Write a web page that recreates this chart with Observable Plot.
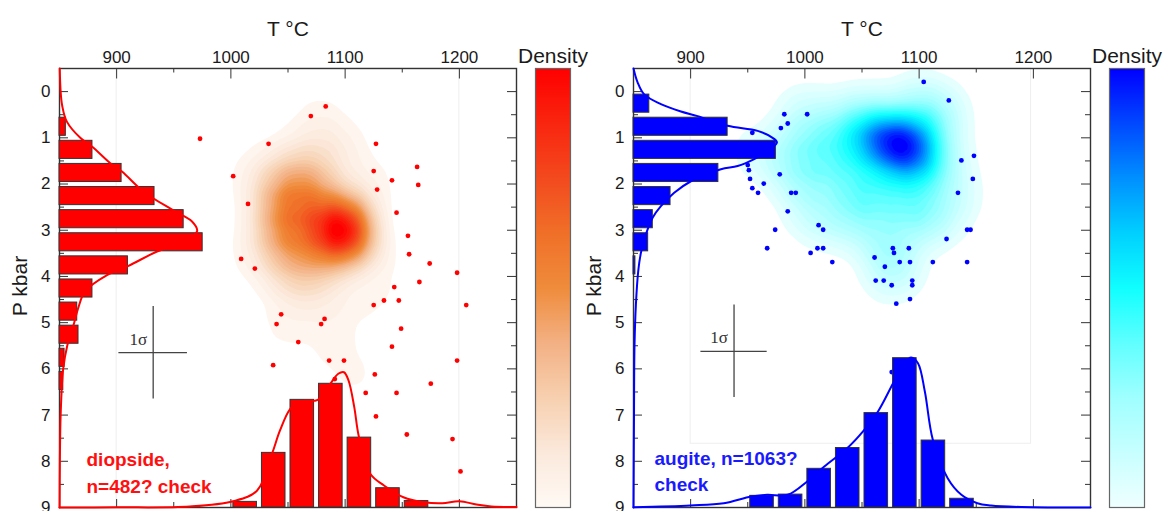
<!DOCTYPE html>
<html><head><meta charset="utf-8">
<script src="https://cdn.jsdelivr.net/npm/d3@7"></script>
<script src="https://cdn.jsdelivr.net/npm/@observablehq/plot@0.6"></script>
<style>
html,body{margin:0;padding:0;background:#fff;}
#chart{position:relative;width:1170px;height:511px;overflow:hidden;font-family:"Liberation Sans",Arial,sans-serif;}
#chart svg{position:absolute;overflow:visible;background:transparent !important;}
</style></head><body><div id="chart"></div>
<script>
// ---------- shared axes ----------
const tDomain = [850, 1250];
const pDomain = [-0.5, 9];
const tTicks = [900, 1000, 1100, 1200];
const tMinor = [950, 1050, 1150];
const pTicks = [0, 1, 2, 3, 4, 5, 6, 7, 8, 9];
const pMinor = [0.5, 1.5, 2.5, 3.5, 4.5, 5.5, 6.5, 7.5, 8.5];

// ---------- diopside (left) ----------
const diDotT = [973,1083,1070,1033,1127,1002,1163,1125,1141,1164,1128,1015,1145,1155,1156,1009,1021,1174,1198,1143,1165,1125,1134,1147,1206,1044,1040,1082,1079,1149,1059,1141,1037,1086,1099,1198,1126,1091,1118,1145,1175,1127,1154,1194,1201];
const diDotP = [1.02,0.32,0.53,1.13,1.13,1.83,1.63,1.72,1.92,2.02,2.12,2.43,2.62,3.12,3.52,3.62,3.83,3.72,3.92,4.23,4.12,4.62,4.52,4.52,4.62,4.82,5.03,4.92,5.03,5.13,5.42,5.52,5.92,5.82,5.82,5.82,6.12,6.22,6.52,6.52,6.32,7.03,7.42,7.52,8.22];
// weighted density centres read from the shaded field
const diKdeT = [1100,1100,1100,1040,1060,1080,1040,1060,1080,1040,1060,1080,1045,1065,1085,1050,1075,1050,1075,1075,1060,1090,1020,1120,1125,1020,1100,1090,1110,1045,1078,1130];
const diKdeP = [2.7,3.0,3.3,2.0,2.0,2.0,2.5,2.5,2.5,3.0,3.0,3.0,3.5,3.5,3.6,4.0,4.0,1.5,1.5,1.0,4.5,4.6,1.8,2.0,3.5,3.5,1.2,5.5,6.2,5.2,0.5,4.5];
const diKdeW = [10,14,10,4,5.5,4,5.5,6,4.5,5.5,6,5,4.5,4.5,4,3.2,2.6,2.6,2.6,1.5,1.8,1.8,1.5,1.8,1.8,1.5,1.8,1.5,1.2,1.2,1.2,1.2];
const diPlo = [0.5,1,1.5,2,2.5,3,3.5,4,4.5,5,5.5,6];
const diPn  = [5,26,49,75,98,113,54,26,14,15,4,3];
const diTlo = [1000,1025,1050,1075,1100,1125,1150];
const diTn  = [7,68,134,154,87,24,8];
const diPcurveP = [-0.5,0,0.3,0.65,1.0,1.19,1.55,1.73,2.16,2.57,2.81,3.02,3.28,3.46,3.77,3.97,4.32,4.68,5.0,5.5,6.0,7.0,8.0,9.0];
const diPcurveN = [0.2,0.9,2.1,5.8,16.4,25.6,40.1,49.3,66.1,89.8,104.6,108.6,95.4,77,54.5,37.5,20.3,14.8,11.6,6.1,2.9,0.9,0.3,0.1];
const diTcurveT = [850,900,964,1002,1023,1036,1043,1052,1061,1076,1087,1094,1099,1103,1108,1112,1122,1134,1151,1169,1185,1200,1215,1228,1250];
const diTcurveN = [0.1,0.2,1.2,7.8,21.2,66.9,95.9,122.9,132.3,134.1,154,166.5,168.4,158.1,124.9,88.4,42,27.4,12.8,6.6,5.4,7.8,3.7,1.2,0.6];
const diStops = ["#fffaf5","#fbe9dc","#f7d0b0","#f3b184","#ef8c3c","#f07028","#f34a1e","#f9260f","#ff0000"];

// ---------- augite (right) ----------
const auDotT = [1104,1126,982,1002,985,979,954,1148,1137,1147,950,951,952,978,964,954,959,988,992,1134,985,974,1012,1016,967,1005,1011,1016,1024,1077,1078,1091,1061,1083,1092,1070,1112,1142,1142,1145,1124,1062,1069,1094,1076,1094,1080,1092,1076];
const auDotP = [-0.21,0.19,0.49,0.49,0.69,0.79,0.89,1.39,1.49,1.89,1.59,1.70,1.89,1.79,1.99,2.09,2.19,2.19,2.19,2.19,2.59,2.99,2.89,2.99,3.39,3.49,3.39,3.39,3.69,3.39,3.49,3.39,3.59,3.69,3.69,3.79,3.69,3.69,2.99,2.99,3.19,4.09,4.09,4.09,4.19,4.19,4.59,4.49,6.07];
const auKdeT = [1092,1080,1098,1070,1060,1045,1070,1105,1075,1100,1000,1020,1000,1040,1060,1090,1120,1110,1040,1070,1010,985,1100,1050,1000,1130,1075,1080,960,1120,1030];
const auKdeP = [1.2,0.95,1.5,1.1,1.2,1.2,0.7,0.8,1.7,1.9,1.0,1.5,2.0,2.0,2.3,2.5,1.5,2.8,2.8,3.2,2.7,1.5,0.2,0.5,0.4,2.3,4.0,3.7,1.3,0.5,0.8];
const auKdeW = [11,6,5,5,5.5,4.5,5,5,5.5,4.5,4.5,5,4.5,5.5,5.5,5.5,4.5,4.5,4.5,4.5,3.5,3.5,3.5,4.5,2.5,3,2.2,3,2,3.5,5];
const auPlo = [0,0.5,1,1.5,2,2.5,3,3.5];
const auPn  = [41,244,369,220,96,50,38,5];
const auTlo = [950,975,1000,1025,1050,1075,1100,1125];
const auTn  = [28,31,93,143,227,359,161,21];
const auPcurveP = [-0.5,-0.2,0.06,0.27,0.43,0.53,0.74,0.85,1.0,1.1,1.29,1.46,1.61,1.68,1.94,2.19,2.48,2.73,3.09,3.49,3.89,4.61,5.5,7,9];
const auPcurveN = [0,10.6,27.7,71,122.9,166.2,244,321.8,360.6,371.8,347.7,312.9,269.9,226.6,148.8,105.5,71,49.5,32.1,19.2,12.2,6.2,2.6,1.3,0];
const auTcurveT = [850,900,929,953,967,985,1002,1017,1037,1052,1064,1078,1087,1093,1099,1105,1112,1125,1137,1151,1163,1190,1250];
const auTcurveN = [0.5,4.8,10.3,26.4,30.5,30.5,62.5,98.6,142.6,186.8,230.8,303,347,360.7,347,278.9,162.8,70.4,30.5,10.3,4.8,1.2,0];
const auStops = ["#f0ffff","#c8ffff","#a0ffff","#60ffff","#10ffff","#00d0ff","#0090ff","#0048ff","#0000ff"];

// ---------- layout ----------
const W = 574, H = 511, MT = 68, MB = 4, ML = 59, MR = 58;
const FW = W - ML - MR, FH = H - MT - MB;
const chart = document.getElementById("chart");
const font = "Liberation Sans, Arial, sans-serif";

function place(svg, left, top) {
  svg.style.position = "absolute";
  svg.style.left = left + "px";
  svg.style.top = top + "px";
  chart.appendChild(svg);
}

function panel(c) {
  const dots = c.dotT.map((t, i) => ({T: t, P: c.dotP[i]}));
  const kde = c.kdeT.map((t, i) => ({T: t, P: c.kdeP[i], w: c.kdeW[i]}));
  const interp = d3.piecewise(d3.interpolateRgb, c.stops);
  const base = {width: W, height: H, marginTop: MT, marginBottom: MB, marginLeft: ML, marginRight: MR,
    style: {background: "transparent", overflow: "visible", fontFamily: font}};
  const main = Plot.plot({...base,
    x: {domain: tDomain, axis: null},
    y: {domain: pDomain, reverse: true, axis: null},
    color: {type: "linear", interpolate: interp, zero: true},
    marks: [
      Plot.rect([c.box], {x1: "x1", x2: "x2", y1: "y1", y2: "y2", fill: "none", stroke: "#eeeeee"}),
      Plot.density(kde, {x: "T", y: "P", weight: "w", fill: "density", bandwidth: 17, thresholds: 30}),
      Plot.dot(dots, {x: "T", y: "P", r: 2.4, fill: c.color}),
      Plot.ruleY([c.cross], {y: "P", x1: d => d.T - d.sT, x2: d => d.T + d.sT, stroke: "#444", strokeWidth: 1.3}),
      Plot.ruleX([c.cross], {x: "T", y1: d => d.P - d.sP, y2: d => d.P + d.sP, stroke: "#444", strokeWidth: 1.3}),
      Plot.text([c.cross], {x: "T", y: "P", text: () => "1σ", textAnchor: "end", lineAnchor: "bottom", dx: -6, dy: -8, fontSize: 17, fontFamily: "Liberation Serif, serif", fill: "#333"}),
      // inward ticks
      Plot.tickX(tTicks, {x: d => d, insetBottom: FH - 10.5, stroke: "#333"}),
      Plot.tickX(tMinor, {x: d => d, insetBottom: FH - 4.5, stroke: "#333"}),
      Plot.tickX(tTicks, {x: d => d, insetTop: FH - 8, stroke: "#333"}),
      Plot.tickX(tMinor, {x: d => d, insetTop: FH - 5, stroke: "#333"}),
      Plot.tickY(pTicks, {y: d => d, insetRight: FW - 9, stroke: "#333"}),
      Plot.tickY(pMinor, {y: d => d, insetRight: FW - 5, stroke: "#333"}),
      Plot.tickY(pTicks, {y: d => d, insetLeft: FW - 9, stroke: "#333"}),
      Plot.tickY(pMinor, {y: d => d, insetLeft: FW - 5, stroke: "#333"}),
      Plot.frame({stroke: "#333", strokeWidth: 1.4}),
      // tick labels and titles
      Plot.text(tTicks, {x: d => d, text: d => String(d), frameAnchor: "top", dy: -18, fontSize: 17, fill: "#1a1a1a"}),
      Plot.text(pTicks, {y: d => d, text: d => String(d), frameAnchor: "left", dx: -9, textAnchor: "end", fontSize: 17, fill: "#1a1a1a"}),
      Plot.text(["T °C"], {frameAnchor: "top", dy: -47.5, fontSize: 21, fill: "#1a1a1a"}),
      Plot.text(["P kbar"], {frameAnchor: "left", textAnchor: "middle", dx: -39, dy: -2, rotate: -90, fontSize: 21, fill: "#1a1a1a"}),
      Plot.text([c.label], {frameAnchor: "bottom-left", dx: c.labelDx, dy: c.labelDy, textAnchor: "start", lineAnchor: "bottom", lineHeight: c.lh, fontSize: 19, fontWeight: "bold", fill: c.labelColor})
    ]
  });
  place(main, c.left, 0);

  // vertical (P) histogram
  const pBins = c.pLo.map((lo, i) => ({lo, n: c.pN[i]}));
  const pCurve = c.pcP.map((p, i) => ({P: p, n: c.pcN[i]}));
  const ph = Plot.plot({...base,
    x: {domain: [0, c.pMax], axis: null},
    y: {domain: pDomain, reverse: true, axis: null},
    marks: [
      Plot.rect(pBins, {x1: () => 0, x2: "n", y1: "lo", y2: d => d.lo + 0.5, insetTop: 3, insetBottom: 2, fill: c.color, stroke: "#333", strokeWidth: 1}),
      Plot.line(pCurve, {x: "n", y: "P", stroke: c.color, strokeWidth: 2, curve: "catmull-rom"})
    ]
  });
  place(ph, c.left, 0);

  // horizontal (T) histogram
  const tBins = c.tLo.map((lo, i) => ({lo, n: c.tN[i]}));
  const tCurve = c.tcT.map((t, i) => ({T: t, n: c.tcN[i]}));
  const th = Plot.plot({...base,
    x: {domain: tDomain, axis: null},
    y: {domain: [0, c.tMax], axis: null},
    marks: [
      Plot.rect(tBins, {x1: "lo", x2: d => d.lo + 25, y1: () => 0, y2: "n", insetLeft: 2.5, insetRight: 2.5, fill: c.color, stroke: "#333", strokeWidth: 1}),
      Plot.line(tCurve, {x: "T", y: "n", stroke: c.color, strokeWidth: 2, curve: "catmull-rom"})
    ]
  });
  place(th, c.left, 0);

  // colour bar
  const cb = Plot.plot({width: 35, height: FH, margin: 0,
    style: {background: "transparent", overflow: "visible", fontFamily: font},
    x: {domain: [0, 1], axis: null}, y: {domain: [0, 1], axis: null},
    color: {type: "linear", domain: [0, 1], interpolate: interp},
    marks: [
      Plot.raster({fill: (x, y) => y, x1: 0, x2: 1, y1: 0, y2: 1, width: 2, height: 256}),
      Plot.frame({stroke: "#666", strokeWidth: 1.2}),
      Plot.text(["Density"], {frameAnchor: "top", dy: -20.5, fontSize: 21, fill: "#1a1a1a"})
    ]
  });
  place(cb, c.left + 535, MT);
}

panel({
  left: 0, color: "#ff0000", labelColor: "#ff1010", stops: diStops,
  dotT: diDotT, dotP: diDotP, kdeT: diKdeT, kdeP: diKdeP, kdeW: diKdeW,
  box: {x1: 900, x2: 1200, y1: -0.5, y2: 9},
  cross: {T: 932, P: 5.65, sT: 30, sP: 1.0},
  label: "diopside,\nn=482? check", labelDx: 27, labelDy: -15, lh: 1.37,
  pLo: diPlo, pN: diPn, pMax: 360.7, pcP: diPcurveP, pcN: diPcurveN,
  tLo: diTlo, tN: diTn, tMax: 546.5, tcT: diTcurveT, tcN: diTcurveN
});
panel({
  left: 573.5, color: "#0000ff", labelColor: "#1a1aff", stops: auStops,
  dotT: auDotT, dotP: auDotP, kdeT: auKdeT, kdeP: auKdeP, kdeW: auKdeW,
  box: {x1: 900, x2: 1198, y1: -0.5, y2: 7.62},
  cross: {T: 938, P: 5.62, sT: 29, sP: 1.0},
  label: "augite, n=1063?\ncheck", labelDx: 21, labelDy: -17, lh: 1.32,
  pLo: auPlo, pN: auPn, pMax: 1184.6, pcP: auPcurveP, pcN: auPcurveN,
  tLo: auTlo, tN: auTn, tMax: 1055.5, tcT: auTcurveT, tcN: auTcurveN
});
</script></body></html>
